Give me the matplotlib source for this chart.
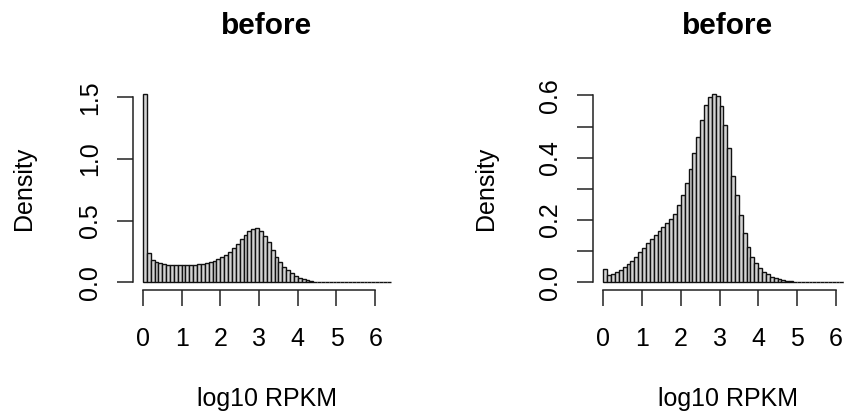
import numpy as np
import matplotlib
matplotlib.use("Agg")
import matplotlib.pyplot as plt

plt.rcParams['font.family'] = ['Liberation Sans', 'DejaVu Sans']
plt.rcParams['font.size'] = 18

# histogram bins (log10 RPKM), width 0.1 from 0 to 6.4
bin_edges = np.round(np.arange(0, 6.41, 0.1), 2)

# density per bin, left panel
left_density = [1.53, 0.24, 0.185, 0.165, 0.155, 0.148, 0.145, 0.142, 0.14, 0.14,
                0.14, 0.14, 0.141, 0.143, 0.147, 0.152, 0.158, 0.165, 0.175, 0.188,
                0.205, 0.225, 0.25, 0.28, 0.315, 0.35, 0.385, 0.415, 0.435, 0.438,
                0.42, 0.378, 0.33, 0.265, 0.21, 0.168, 0.128, 0.1, 0.074, 0.052,
                0.038, 0.025, 0.017, 0.011, 0.007, 0.005, 0.003, 0.002, 0.0015, 0.001,
                0.001, 0.0007, 0.0005, 0.0003, 0.0002, 0.0001, 0, 0, 0, 0,
                0, 0, 0, 0]

# density per bin, right panel
right_density = [0.042, 0.025, 0.028, 0.033, 0.04, 0.048, 0.058, 0.07, 0.083, 0.097,
                 0.112, 0.126, 0.14, 0.153, 0.166, 0.178, 0.19, 0.203, 0.218, 0.25,
                 0.28, 0.32, 0.365, 0.415, 0.467, 0.52, 0.568, 0.595, 0.606, 0.598,
                 0.565, 0.505, 0.43, 0.34, 0.28, 0.216, 0.159, 0.114, 0.082, 0.061,
                 0.046, 0.035, 0.026, 0.019, 0.014, 0.01, 0.007, 0.005, 0.0035, 0.0025,
                 0.0018, 0.0012, 0.0008, 0.0005, 0.0003, 0.0002, 0.0001, 0, 0, 0,
                 0, 0, 0, 0]

titles = ["before", "before"]
x_label = "log10 RPKM"
y_label = "Density"
x_ticks = [0, 1, 2, 3, 4, 5, 6]
left_yticks = [0.0, 0.5, 1.0, 1.5]
left_ylabels = ["0.0", "0.5", "1.0", "1.5"]
right_yticks = [0.0, 0.1, 0.2, 0.3, 0.4, 0.5, 0.6]
right_ylabels = ["0.0", "", "0.2", "", "0.4", "", "0.6"]

W, H = 845, 417
fig = plt.figure(figsize=(W / 100, H / 100), dpi=100)


def px_axes(left, right, top, bottom):
    return fig.add_axes([left / W, 1 - bottom / H, (right - left) / W, (bottom - top) / H])


def r_hist(ax, dens, yticks, ylabels):
    ax.bar(bin_edges[:-1], dens, width=0.1, align='edge',
           color='#d3d3d3', edgecolor='#111111', linewidth=1.0)
    span = bin_edges[-1] - bin_edges[0]
    ax.set_xlim(bin_edges[0] - 0.04 * span, bin_edges[-1] + 0.04 * span)
    ymax = max(dens)
    ax.set_ylim(-0.04 * ymax, 1.04 * ymax)
    ax.set_xticks(x_ticks)
    ax.set_yticks(yticks)
    ax.set_yticklabels(ylabels)
    for s in ['top', 'right']:
        ax.spines[s].set_visible(False)
    ax.spines['left'].set_bounds(yticks[0], yticks[-1])
    ax.spines['bottom'].set_bounds(x_ticks[0], x_ticks[-1])
    for s in ['left', 'bottom']:
        ax.spines[s].set_linewidth(1.1)
        ax.spines[s].set_color('#222222')
    ax.tick_params(length=11.5, width=1.1, color='#222222', labelsize=18)
    ax.tick_params(axis='x', pad=15)
    ax.tick_params(axis='y', pad=11, labelrotation=90)
    for lab in ax.get_yticklabels():
        lab.set_verticalalignment('center')


ax1 = px_axes(133, 400.6, 86, 290)
r_hist(ax1, left_density, left_yticks, left_ylabels)
ax2 = px_axes(593.5, 861, 86, 290)
r_hist(ax2, right_density, right_yticks, right_ylabels)

for cx, t in zip([266.8, 728.0], titles):
    fig.text(cx / W, 1 - 33.5 / H, t, ha='center', va='baseline',
             fontsize=21.5, fontweight='bold')
    fig.text(cx / W, 1 - 406 / H, x_label, ha='center', va='baseline', fontsize=18)

for bx in [31, 493]:
    fig.text(bx / W, 1 - 188.3 / H, y_label, rotation=90, rotation_mode='anchor',
             ha='center', va='baseline', fontsize=18)

fig.savefig("out.png", dpi=100)
